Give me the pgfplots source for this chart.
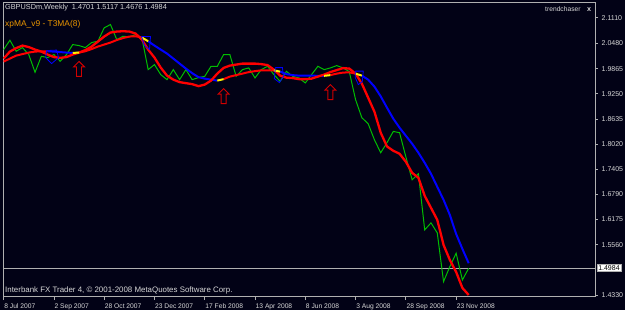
\documentclass[border=0pt]{standalone}
\usepackage{pgfplots}
\pgfplotsset{compat=1.18}
\usepackage{pgfplotstable}
\usepackage{fontspec}
\setmainfont{Liberation Sans}
\definecolor{bg}{RGB}{2,2,22}
\definecolor{frame}{RGB}{176,176,176}
\definecolor{lbl}{RGB}{215,215,215}
\definecolor{mtgreen}{RGB}{0,190,0}
\definecolor{mtorange}{RGB}{235,150,0}
\definecolor{arrowred}{RGB}{210,0,0}
\pgfdeclareplotmark{uparrow}{%
  \pgfpathmoveto{\pgfqpoint{0bp}{7.5bp}}%
  \pgfpathlineto{\pgfqpoint{5.5bp}{2bp}}%
  \pgfpathlineto{\pgfqpoint{2.5bp}{2bp}}%
  \pgfpathlineto{\pgfqpoint{2.5bp}{-7.5bp}}%
  \pgfpathlineto{\pgfqpoint{-2.5bp}{-7.5bp}}%
  \pgfpathlineto{\pgfqpoint{-2.5bp}{2bp}}%
  \pgfpathlineto{\pgfqpoint{-5.5bp}{2bp}}%
  \pgfpathclose
  \pgfusepathqstroke}
\pgfplotstableread{
w close fast slow
0 2.0333 2.0113 2.0039
1 2.0561 2.0284 2.0113
2 2.0292 2.0370 2.0186
3 2.0382 2.0431 2.0223
4 2.0211 2.0395 2.0260
5 1.9777 2.0333 2.0284
6 2.0169 2.0284 2.0292
7 2.0137 2.0211 2.0292
8 2.0211 2.0150 2.0284
9 2.0047 2.0130 2.0272
10 2.0211 2.0150 2.0260
11 2.0456 2.0211 2.0252
12 2.0431 2.0260 2.0260
13 2.0382 2.0321 2.0292
14 2.0505 2.0407 2.0346
15 2.0537 2.0529 2.0407
16 2.0865 2.0652 2.0456
17 2.0946 2.0750 2.0505
18 2.0578 2.0774 2.0566
19 2.0659 2.0782 2.0615
20 2.0644 2.0774 2.0652
21 2.0701 2.0725 2.0659
22 2.0620 2.0578 2.0627
23 1.9843 2.0333 2.0537
24 1.9966 2.0137 2.0431
25 1.9721 1.9892 2.0333
26 1.9598 1.9696 2.0235
27 1.9843 1.9598 2.0113
28 1.9598 1.9537 1.9990
29 1.9843 1.9512 1.9868
30 1.9598 1.9488 1.9757
31 1.9647 1.9439 1.9659
32 1.9679 1.9476 1.9623
33 1.9924 1.9574 1.9598
34 1.9924 1.9745 1.9574
35 2.0211 1.9885 1.9610
36 2.0211 1.9941 1.9672
37 1.9679 1.9966 1.9708
38 1.9843 1.9990 1.9745
39 1.9885 1.9990 1.9782
40 1.9640 1.9990 1.9806
41 1.9843 1.9978 1.9826
42 1.9924 1.9953 1.9826
43 1.9721 1.9843 1.9826
44 1.9557 1.9696 1.9794
45 1.9801 1.9647 1.9733
46 1.9679 1.9635 1.9708
47 1.9640 1.9610 1.9696
48 1.9517 1.9610 1.9696
49 1.9721 1.9623 1.9696
50 1.9924 1.9672 1.9691
51 1.9843 1.9721 1.9691
52 1.9885 1.9782 1.9708
53 1.9941 1.9831 1.9745
54 1.9885 1.9880 1.9770
55 1.9794 1.9868 1.9777
56 1.9108 1.9745 1.9745
57 1.8667 1.9500 1.9696
58 1.8520 1.9157 1.9598
59 1.8128 1.8814 1.9427
60 1.7809 1.8300 1.9189
61 1.8055 1.7964 1.8912
62 1.8331 1.7858 1.8643
63 1.8300 1.7785 1.8422
64 1.7711 1.7589 1.8226
65 1.7148 1.7319 1.8030
66 1.7295 1.7197 1.7809
67 1.5923 1.6756 1.7564
68 1.6094 1.6462 1.7295
69 1.5849 1.6168 1.6976
70 1.4656 1.5555 1.6658
71 1.5024 1.5188 1.6290
72 1.5352 1.4894 1.5825
73 1.4698 1.4502 1.5457
74 1.4984 1.4330 1.5107
}\datatable
\begin{document}
\begin{tikzpicture}
\path[use as bounding box] (0,0) rectangle (625bp,310bp);
\fill[bg] (0,0) rectangle (625bp,310bp);
\begin{axis}[
  at={(3bp,13.5bp)}, anchor=south west,
  scale only axis, width=592bp, height=294bp,
  xmin=-0.1, xmax=94.1, ymin=1.4293, ymax=2.1485,
  axis line style={frame, line width=0.8bp},
  xtick={0,8,16,24,32,40,48,56,64,72},
  xticklabels={8 Jul 2007,2 Sep 2007,28 Oct 2007,23 Dec 2007,17 Feb 2008,13 Apr 2008,8 Jun 2008,3 Aug 2008,28 Sep 2008,23 Nov 2008},
  ytick={1.4330,1.5560,1.6175,1.6790,1.7405,1.8020,1.8635,1.9250,1.9865,2.0480,2.1110},
  yticklabels={1.4330,1.5560,1.6175,1.6790,1.7405,1.8020,1.8635,1.9250,1.9865,2.0480,2.1110},
  xtick pos=lower, ytick pos=upper, yticklabel pos=right,
  tick align=outside, major tick length=3bp,
  tick style={frame, line width=0.8bp},
  ticklabel style={text=lbl, inner sep=0pt},
  xticklabel style={font=\fontsize{6.7bp}{8bp}\selectfont, anchor=north west, xshift=0.5bp, yshift=-4bp},
  yticklabel style={font=\fontsize{7bp}{8bp}\selectfont, anchor=west, xshift=3.5bp},
  clip=true,
]
\addplot[frame, line width=0.7bp] coordinates {(-0.1,1.4984) (94.1,1.4984)};
\addplot[mtgreen, line width=1bp] table[x=w, y=close] {\datatable};
\addplot[red, line width=2bp, restrict x to domain=0:7] table[x=w, y=slow] {\datatable};
\addplot[blue, line width=2bp, restrict x to domain=7:11] table[x=w, y=slow] {\datatable};
\addplot[red, line width=2bp, restrict x to domain=12:22] table[x=w, y=slow] {\datatable};
\addplot[blue, line width=2bp, restrict x to domain=23:34] table[x=w, y=slow] {\datatable};
\addplot[red, line width=2bp, restrict x to domain=35:43] table[x=w, y=slow] {\datatable};
\addplot[blue, line width=2bp, restrict x to domain=44:51] table[x=w, y=slow] {\datatable};
\addplot[red, line width=2bp, restrict x to domain=52:56] table[x=w, y=slow] {\datatable};
\addplot[blue, line width=2bp, restrict x to domain=57:74] table[x=w, y=slow] {\datatable};
\addplot[red, line width=2.3bp] table[x=w, y=fast] {\datatable};
\addplot[yellow, line width=2bp, unbounded coords=jump] coordinates {
 (11,2.0252) (12,2.0260) (nan,nan)
 (22,2.0627) (23,2.0537) (nan,nan)
 (34,1.9574) (35,1.9610) (nan,nan)
 (43,1.9826) (44,1.9794) (nan,nan)
 (51,1.9691) (52,1.9708) (nan,nan)
 (56,1.9745) (57,1.9696)};
\addplot[blue, line width=0.8bp, unbounded coords=jump] coordinates {
 (6.84,2.0309) (8.43,2.0321) (8.74,2.0137) (7.63,1.9990) (6.68,2.0137) (6.84,2.0309) (nan,nan)
 (21.94,2.0652) (23.37,2.0652) (23.21,2.0333) (22.42,2.0431) (21.94,2.0652) (nan,nan)
 (43.24,1.9892) (44.36,1.9892) (44.52,1.9672) (43.88,1.9525) (43.08,1.9623) (43.24,1.9892) (nan,nan)
 (55.96,1.9806) (57.23,1.9806) (57.07,1.9549) (56.44,1.9476) (55.96,1.9647) (55.96,1.9806)};
\addplot[only marks, mark=uparrow, arrowred, mark options={line width=0.9bp}] coordinates {(12,1.9860) (35,1.9194) (52,1.9292)};
\end{axis}
\node[anchor=west, fill=white, draw=frame, line width=0.5bp, inner xsep=1.5bp, inner ysep=1bp, font=\fontsize{7bp}{8bp}\selectfont, text=black] at (596.5bp,42.3bp) {1.4984};
\node[anchor=west, inner sep=0pt, font=\fontsize{7.3bp}{8bp}\selectfont, text=lbl] at (5bp,302bp) {GBPUSDm,Weekly\ \ 1.4701 1.5117 1.4676 1.4984};
\node[anchor=west, inner sep=0pt, font=\fontsize{8.4bp}{9bp}\selectfont, text=mtorange] at (5bp,286bp) {xpMA\_v9 - T3MA(8)};
\node[anchor=west, inner sep=0pt, font=\fontsize{6.7bp}{8bp}\selectfont, text=lbl] at (545bp,300.5bp) {trendchaser};
\node[anchor=west, inner sep=0pt, font=\bfseries\fontsize{7.2bp}{8bp}\selectfont, text=lbl] at (587bp,300.5bp) {x};
\node[anchor=west, inner sep=0pt, font=\fontsize{7.9bp}{8bp}\selectfont, text=lbl] at (5bp,20bp) {Interbank FX Trader 4, © 2001-2008 MetaQuotes Software Corp.};
\end{tikzpicture}
\end{document}
